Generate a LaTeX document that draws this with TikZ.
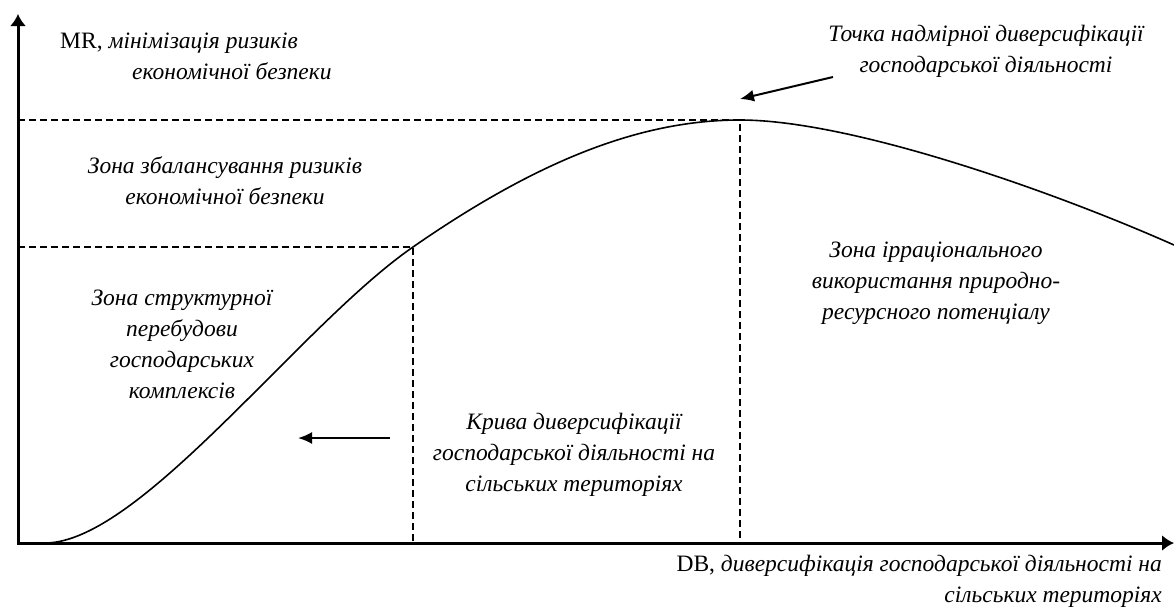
\documentclass[tikz,border=0pt]{standalone}
\usepackage{fontspec}
\setmainfont{Liberation Serif}
\usetikzlibrary{calc,arrows.meta}

\begin{document}
\begin{tikzpicture}[x=1pt,y=-1pt,font=\fontsize{23.5}{31}\selectfont\itshape]
\tikzset{
% Line styles: axes, curve, guide lines and pointers
axis line/.style={line width=3pt,{Latex[length=12pt,width=16pt]}-{Latex[length=12pt,width=16pt]}},
curve line/.style={line width=1.6pt},
guide line/.style={line width=1.2pt,dash pattern=on 7pt off 4pt},
pointer/.style={line width=2pt,-{Latex[length=14pt,width=12pt]}},
zone text/.style={align=center,inner sep=0pt}
}
\useasboundingbox (0,0) rectangle (1174,608);

% Axes
\coordinate(O) at (18,543);
\coordinate(Y) at (18,14);
\coordinate(X) at (1174,543);
\draw[axis line] (Y) -- (O) -- (X);

% The diversification curve
\coordinate(S) at (45,543);
\coordinate(A) at (413,247);
\coordinate(P) at (740,120);
\coordinate(E) at (1174,245);
\draw[curve line] (S) .. controls (140,543) and (300,325) .. (A)
 .. controls (537,161) and (640,120) .. (P)
 .. controls (850,120) and (1050,190) .. (E);

% Zone boundaries
\draw[guide line] (O |- P) -- (P) -- (P |- O);
\draw[guide line] (O |- A) -- (A) -- (A |- O);

% Pointers
\coordinate(p1) at (833,77);
\coordinate(p2) at (740,99);
\draw[pointer] (p1) -- (p2);
\coordinate(q1) at (390,438);
\coordinate(q2) at (298,438);
\draw[pointer] (q1) -- (q2);

% Axis labels
\node(mr)[align=left,anchor=west,inner sep=0pt] at (60,56) {{\upshape MR,} мінімізація ризиків\\\hspace*{72pt}економічної безпеки};
\node(db)[align=right,anchor=east,inner sep=0pt] at (1162,581) {{\upshape DB,} диверсифікація господарської діяльності на\\сільських територіях};

% Zones
\node(point)[zone text] at (986,51) {Точка надмірної диверсифікації\\господарської діяльності};
\node(balance)[zone text] at (225,181) {Зона збалансування ризиків\\економічної безпеки};
\node(restruct)[zone text] at (182,344) {Зона структурної\\перебудови\\господарських\\комплексів};
\node(irrational)[zone text] at (936,283) {Зона ірраціонального\\використання природно-\\ресурсного потенціалу};
\node(curve)[zone text] at (574,455) {Крива диверсифікації\\господарської діяльності на\\сільських територіях};
\end{tikzpicture}
\end{document}
